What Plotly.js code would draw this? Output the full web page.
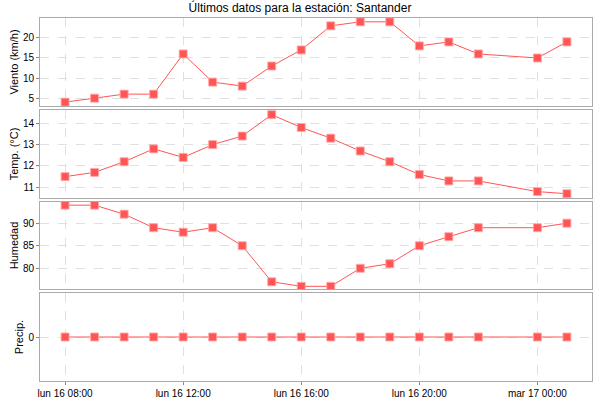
<!DOCTYPE html>
<html>
<head>
<meta charset="utf-8">
<script src="https://cdn.plot.ly/plotly-3.0.1.min.js"></script>
<style>
  body { margin: 0; background: #fff; }
  #chart { width: 600px; height: 400px; }
</style>
</head>
<body>
<div id="chart"></div>
<script>
// hourly readings, the 23:00 reading is missing
var times = ['2015-03-16 08:00', '2015-03-16 09:00', '2015-03-16 10:00', '2015-03-16 11:00',
             '2015-03-16 12:00', '2015-03-16 13:00', '2015-03-16 14:00', '2015-03-16 15:00',
             '2015-03-16 16:00', '2015-03-16 17:00', '2015-03-16 18:00', '2015-03-16 19:00',
             '2015-03-16 20:00', '2015-03-16 21:00', '2015-03-16 22:00',
             '2015-03-17 00:00', '2015-03-17 01:00'];
var wind = [4, 5, 6, 6, 16, 9, 8, 13, 17, 23, 24, 24, 18, 19, 16, 15, 19];
var temp = [11.5, 11.7, 12.2, 12.8, 12.4, 13.0, 13.4, 14.4, 13.8, 13.3, 12.7, 12.2, 11.6, 11.3, 11.3, 10.8, 10.7];
var humidity = [94, 94, 92, 89, 88, 89, 85, 77, 76, 76, 80, 81, 85, 87, 89, 89, 90];
var precip = [0, 0, 0, 0, 0, 0, 0, 0, 0, 0, 0, 0, 0, 0, 0, 0, 0];

var tickVals = ['2015-03-16 08:00', '2015-03-16 12:00', '2015-03-16 16:00', '2015-03-16 20:00', '2015-03-17 00:00'];
var tickLabels = ['lun 16 08:00', 'lun 16 12:00', 'lun 16 16:00', 'lun 16 20:00', 'mar 17 00:00'];
var xRange = ['2015-03-16 07:09', '2015-03-17 01:51'];

var red = '#ff5555';
var font = {family: 'Liberation Sans, Arial, sans-serif', size: 10, color: '#000'};

function series(y, n) {
  return {
    x: times, y: y, type: 'scatter', mode: 'lines+markers',
    xaxis: n == 1 ? 'x' : 'x' + n, yaxis: n == 1 ? 'y' : 'y' + n,
    line: {color: red, width: 1},
    marker: {symbol: 'square', size: 8, color: red, line: {color: 'rgba(255,170,170,0.9)', width: 1}},
    hoverinfo: 'x+y'
  };
}

function xAxis(anchor, last) {
  return {
    type: 'date', range: xRange, anchor: anchor, matches: anchor == 'y' ? undefined : 'x',
    tickvals: tickVals, ticktext: tickLabels, showticklabels: last,
    ticks: last ? 'outside' : '', ticklen: 3, tickcolor: '#888',
    showgrid: true, gridcolor: '#e0e0e0', griddash: 'dash', gridwidth: 1,
    showline: true, mirror: true, linecolor: '#aaa', linewidth: 1,
    zeroline: false, tickfont: font
  };
}

function yAxis(title, domain, range, dtick, anchor) {
  return {
    domain: domain, range: range, dtick: dtick, anchor: anchor,
    title: {text: title, font: {family: font.family, size: 11, color: '#000'}, standoff: 2},
    ticks: 'outside', ticklen: 3, tickcolor: '#888',
    showgrid: true, gridcolor: '#e0e0e0', griddash: 'dash', gridwidth: 1,
    showline: true, mirror: true, linecolor: '#aaa', linewidth: 1,
    zeroline: false, tickfont: font
  };
}

var data = [series(wind, 1), series(temp, 2), series(humidity, 3), series(precip, 4)];

var layout = {
  width: 600, height: 400,
  margin: {l: 40, r: 8, t: 18, b: 19},
  paper_bgcolor: '#fff', plot_bgcolor: '#fff',
  showlegend: false,
  font: font,
  title: {text: 'Últimos datos para la estación: Santander', x: 0.5, y: 0.98, yref: 'container', yanchor: 'middle',
          font: {family: font.family, size: 12, color: '#000'}},
  xaxis: xAxis('y', false),
  xaxis2: xAxis('y2', false),
  xaxis3: xAxis('y3', false),
  xaxis4: xAxis('y4', true),
  yaxis: yAxis('Viento (km/h)', [0.7576, 1], [3.05, 24.95], 5, 'x'),
  yaxis2: yAxis('Temp. (°C)', [0.5041, 0.7466], [10.5, 14.62], 1, 'x2'),
  yaxis3: yAxis('Humedad', [0.2534, 0.4931], [75.4, 94.7], 5, 'x3'),
  yaxis4: yAxis('Precip.', [0, 0.2424], [-1, 1], 1, 'x4')
};
layout.yaxis4.tickvals = [0];

Plotly.newPlot('chart', data, layout, {displayModeBar: false, staticPlot: true});
</script>
</body>
</html>
